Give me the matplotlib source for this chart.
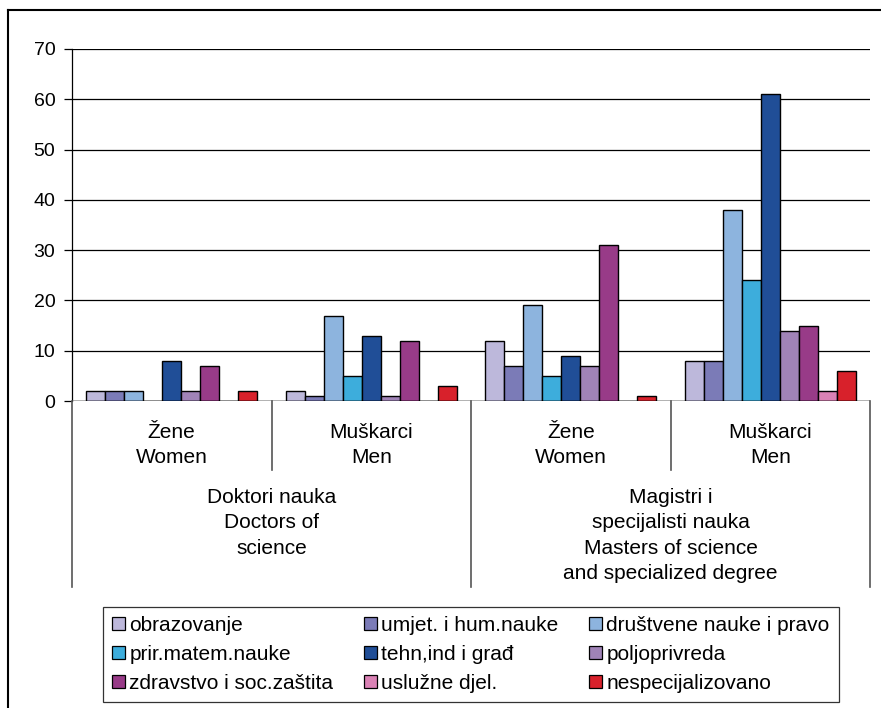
import matplotlib.pyplot as plt
import matplotlib.transforms as mtransforms
from matplotlib.patches import Rectangle
from matplotlib.lines import Line2D
import numpy as np

plt.rcParams['font.family'] = ['Liberation Sans', 'DejaVu Sans']

series = ["obrazovanje", "umjet. i hum.nauke", "društvene nauke i pravo",
          "prir.matem.nauke", "tehn,ind i građ", "poljoprivreda",
          "zdravstvo i soc.zaštita", "uslužne djel.", "nespecijalizovano"]
colors = ["#BDB8DB", "#7B7BB7", "#8DB4DE", "#3DADDC", "#204E97",
          "#A083B7", "#983B88", "#DA82B5", "#D8212B"]

# rows = groups, cols = series
zene_dr = [2, 2, 2, 0, 8, 2, 7, 0, 2]
muski_dr = [2, 1, 17, 5, 13, 1, 12, 0, 3]
zene_mr = [12, 7, 19, 5, 9, 7, 31, 0, 1]
muski_mr = [8, 8, 38, 24, 61, 14, 15, 2, 6]
values = np.array([zene_dr, muski_dr, zene_mr, muski_mr])

inner_labels = ["Žene\nWomen", "Muškarci\nMen", "Žene\nWomen", "Muškarci\nMen"]
outer_labels = ["Doktori nauka\nDoctors of\nscience",
                "Magistri i\nspecijalisti nauka\nMasters of science\nand specialized degree"]

W, H = 881, 708
fig = plt.figure(figsize=(W / 100, H / 100), dpi=100)
ax = fig.add_axes([72 / W, 1 - 401 / H, (870 - 72) / W, (401 - 49) / H])

bw = 0.095
x = np.arange(4)
for i in range(9):
    ax.bar(x + (i - 4) * bw, values[:, i], width=bw, color=colors[i],
           edgecolor="black", linewidth=1.0, label=series[i], zorder=3)

ax.set_xlim(-0.5, 3.5)
ax.set_ylim(0, 70)
ax.set_yticks(range(0, 71, 10))
ax.yaxis.grid(True, color="black", linewidth=0.9)
ax.set_axisbelow(True)
ax.set_xticks([])
for s in ["top", "right", "bottom"]:
    ax.spines[s].set_visible(False)
ax.spines["left"].set_linewidth(0.9)
ax.axhline(0, color="black", linewidth=1, zorder=4)
ax.tick_params(axis="y", length=6, width=0.9, pad=6, labelsize=14)

# category axis
tr = mtransforms.blended_transform_factory(ax.transData, fig.transFigure)
y0 = 1 - 401 / H
for xb in [0.5, 2.5]:
    fig.add_artist(Line2D([xb, xb], [y0, 1 - 470 / H], transform=tr,
                          color="#555555", linewidth=1.2))
for xb in [-0.5, 1.5, 3.5]:
    fig.add_artist(Line2D([xb, xb], [y0, 1 - 587 / H], transform=tr,
                          color="#555555", linewidth=1.2))
for k, lab in enumerate(inner_labels):
    fig.text(k, 1 - 445 / H, lab, transform=tr, ha="center", va="center",
             fontsize=15, linespacing=1.4)
fig.text(0.5, 1 - 488 / H, outer_labels[0], transform=tr, ha="center",
         va="top", fontsize=15, linespacing=1.43)
fig.text(2.5, 1 - 488 / H, outer_labels[1], transform=tr, ha="center",
         va="top", fontsize=15, linespacing=1.43)

# outer frame
fig.add_artist(Line2D([8 / W, 8 / W], [0, 1 - 10 / H], color="black", linewidth=1.5))
fig.add_artist(Line2D([8 / W, 1], [1 - 10 / H, 1 - 10 / H], color="black", linewidth=1.5))

# legend filled row by row
order = [0, 3, 6, 1, 4, 7, 2, 5, 8]
handles = [Rectangle((0, 0), 1, 1, facecolor=colors[i], edgecolor="black", linewidth=0.9)
           for i in order]
labels = [series[i] for i in order]
leg = fig.legend(handles, labels, ncol=3, loc="center", mode="expand",
                 bbox_to_anchor=(103 / W, 1 - 701 / H, (839 - 103) / W, 93 / H),
                 fontsize=15, handlelength=0.62, handleheight=0.62,
                 handletextpad=0.2, columnspacing=1.5, labelspacing=0.48,
                 borderaxespad=0, borderpad=0.45, fancybox=False, frameon=True)
leg.get_frame().set_edgecolor("black")
leg.get_frame().set_linewidth(0.9)

fig.savefig("out.png", dpi=100)
